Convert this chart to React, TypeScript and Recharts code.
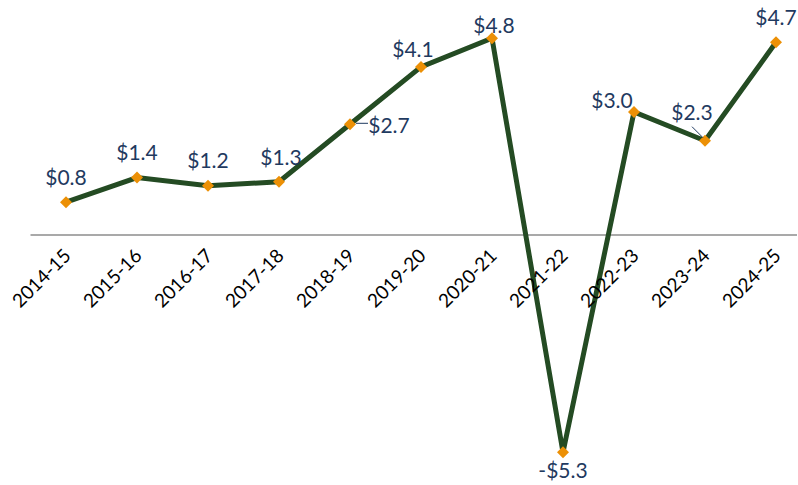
import React from "react";
import { LabelList, Line, LineChart, ReferenceLine, XAxis, YAxis } from "recharts";

const years = [
  "2014-15", "2015-16", "2016-17", "2017-18", "2018-19", "2019-20",
  "2020-21", "2021-22", "2022-23", "2023-24", "2024-25",
];
const values = [0.8, 1.4, 1.2, 1.3, 2.7, 4.1, 4.8, -5.3, 3.0, 2.3, 4.7];

// label nudges from the point, [dx, dy]
const labelShift: [number, number][] = [
  [0, -26], [0, -26], [0, -26], [2, -25], [39, 0], [-8, -18],
  [2, -14], [0, 17], [-22, -13], [-13, -29], [0, -26],
];

const data = years.map((year, i) => ({ year, value: values[i], base: 0 }));

const FONT = "Lato, 'Open Sans', sans-serif";
const NAVY = "#1F3A60";

function Diamond(props: any) {
  const { cx, cy } = props;
  if (cx == null || cy == null) return null;
  const r = 6;
  return (
    <polygon
      points={`${cx},${cy - r} ${cx + r},${cy} ${cx},${cy + r} ${cx - r},${cy}`}
      fill="#EC9006"
    />
  );
}

function ValueLabel(props: any) {
  const { x, y, value, index } = props;
  const [dx, dy] = labelShift[index];
  const txt = value < 0 ? `-$${Math.abs(value).toFixed(1)}` : `$${value.toFixed(1)}`;
  return (
    <g>
      {index === 4 && (
        <line x1={x + 6} y1={y - 1} x2={x + 18} y2={y - 1} stroke={NAVY} strokeWidth={1} />
      )}
      {index === 9 && (
        <line x1={x - 13} y1={y - 14} x2={x - 2} y2={y - 3} stroke={NAVY} strokeWidth={1} />
      )}
      <text
        x={x + dx}
        y={y + dy}
        textAnchor="middle"
        dominantBaseline="central"
        fill={NAVY}
        fontSize={21}
        fontFamily={FONT}
      >
        {txt}
      </text>
    </g>
  );
}

function YearTick(props: any) {
  const { x, y, value } = props;
  const ax = x + 6;
  const ay = y + 22;
  return (
    <text
      x={ax}
      y={ay}
      textAnchor="end"
      transform={`rotate(-45, ${ax}, ${ay})`}
      fill="#000"
      fontSize={19}
      fontFamily={FONT}
    >
      {value}
    </text>
  );
}

export default function App() {
  return (
    <div
      style={{
        position: "absolute",
        left: 0,
        top: 0,
        width: 797,
        height: 485,
        overflow: "hidden",
        background: "#fff",
      }}
    >
      <LineChart
        width={830}
        height={485}
        data={data}
        margin={{ top: 9.5, right: 18.5, bottom: 24.5, left: 30.5 }}
      >
        <XAxis dataKey="year" hide padding={{ left: 35.5, right: 35.5 }} />
        <YAxis hide domain={[-5.5, 5.5]} type="number" allowDataOverflow />
        <ReferenceLine y={0} stroke="#8C8C8C" strokeWidth={1.5} />
        <Line
          dataKey="base"
          stroke="none"
          dot={false}
          activeDot={false}
          isAnimationActive={false}
        >
          <LabelList dataKey="year" content={<YearTick />} />
        </Line>
        <Line
          type="linear"
          dataKey="value"
          stroke="#244B23"
          strokeWidth={5}
          dot={<Diamond />}
          activeDot={false}
          isAnimationActive={false}
        >
          <LabelList dataKey="value" content={<ValueLabel />} />
        </Line>
      </LineChart>
    </div>
  );
}
